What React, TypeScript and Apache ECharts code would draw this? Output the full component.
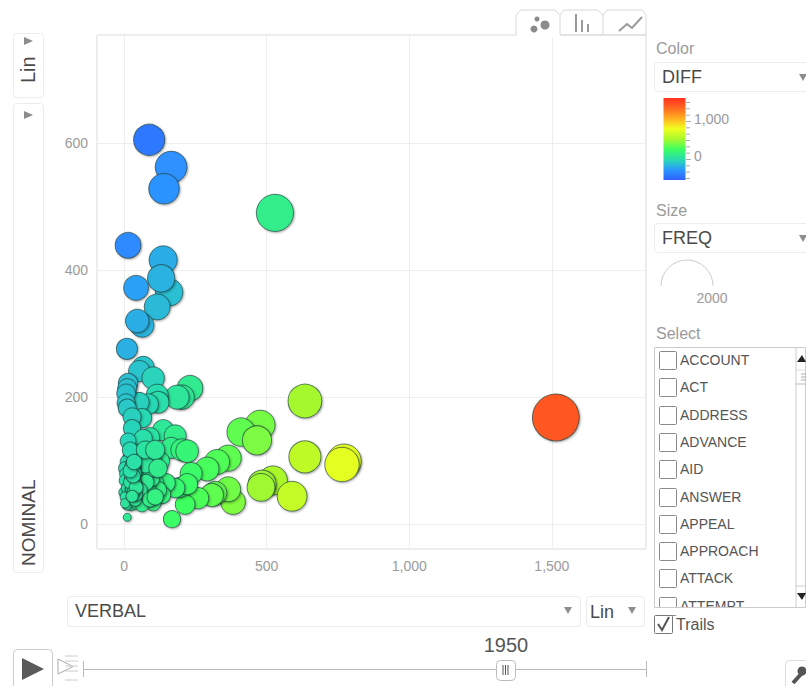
import React, { useEffect, useRef } from "react";
import * as echarts from "echarts";

// Values, one entry per bubble
const verbal = [88,165,140,529,14,137,158,130,116,42,63,46,10,67,53,102,231,203,186,116,119,84,53,14,11,7,7,11,63,28,28,137,179,91,67,14,165,203,221,477,410,466,634,634,771,764,365,326,291,235,522,484,480,589,382,365,319,308,259,214,168,1514,196,221,179,147,109,133,102,119,84,95,112,126,98,81,60,46,21,11,4,7,4,0,11,63,84,49,32,74,42,21,74,109,119,77,56,39,25,18,4,25,11,4,46,63,91,109,25,25,32,39,35,32,28,35,42,11,28,35,25,32,28,21,35,42,28,32,21,35];
const nominal = [605,562,528,490,439,416,365,387,342,372,313,320,276,247,241,230,214,200,200,203,192,189,192,222,214,206,191,183,167,169,151,148,139,137,135,131,120,117,115,156,145,132,194,106,99,94,104,98,87,80,69,63,58,44,35,55,49,46,41,31,8,168,58,63,57,65,65,46,33,54,57,72,90,99,104,104,101,96,104,98,88,79,69,50,57,80,85,72,77,94,113,117,117,117,88,66,54,63,54,44,43,30,30,33,33,30,39,43,85,69,50,38,85,94,60,69,47,11,90,80,72,62,55,66,52,58,44,76,84,98];
const freq = [693,727,668,1019,453,553,523,517,458,414,376,366,286,314,294,332,445,403,386,319,311,273,245,236,225,213,198,194,230,197,179,285,318,228,202,145,285,320,336,633,555,598,828,740,870,858,469,424,378,315,591,547,538,633,417,420,368,354,300,245,176,1682,254,284,236,212,174,179,135,173,141,167,202,225,202,185,161,142,125,109,92,86,73,50,68,143,169,121,109,168,155,138,191,226,207,143,110,102,79,62,47,55,41,37,79,93,130,152,110,94,82,77,120,126,88,104,89,22,118,115,97,94,83,87,87,100,72,108,105,133];
const diff = [-517,-397,-388,39,-425,-279,-207,-257,-226,-330,-250,-274,-266,-180,-188,-128,17,3,-14,-87,-73,-105,-139,-208,-203,-199,-184,-172,-104,-141,-123,-11,40,-46,-68,-117,45,86,106,321,265,334,440,528,672,670,261,228,204,155,453,421,422,545,347,310,270,262,218,183,160,1346,138,158,122,82,44,87,69,65,27,23,22,27,-6,-23,-41,-50,-83,-87,-84,-72,-65,-50,-46,-17,-1,-23,-45,-20,-71,-96,-43,-8,31,11,2,-24,-29,-26,-39,-5,-19,-29,13,33,52,66,-60,-44,-18,1,-50,-62,-32,-34,-5,0,-62,-45,-47,-30,-27,-45,-17,-16,-16,-44,-63,-63];

const xTickStep = 500;
const yTickStep = 200;
const colorMin = -632;
const colorMax = 1526;
const colorStops = ["#3060ff","#2c98ff","#28dcb0","#3cff60","#a8f82c","#f0ff20","#ffb020","#ff6a20","#ff3020"];
const selectItems = ["ACCOUNT","ACT","ADDRESS","ADVANCE","AID","ANSWER","APPEAL","APPROACH","ATTACK","ATTEMPT"];
const yearLabel = "1950";
const sizeLegendLabel = "2000";

const FONT = "'Liberation Sans', Arial, sans-serif";
const LINE = "#ececec";
const GRAY = "#9a9a9a";
const DARK = "#4a4a4a";

const rect = (x: number, y: number, w: number, h: number, r = 3, fill = "#fff", stroke = LINE, lw = 1) => ({
  type: "rect", shape: { x: x + 0.5, y: y + 0.5, width: w, height: h, r }, style: { fill, stroke, lineWidth: lw },
});
const text = (t: string, x: number, y: number, size: number, fill = DARK, extra: any = {}, rotation = 0) => ({
  type: "text", x, y, rotation,
  style: { text: t, fontSize: size, fontFamily: FONT, fill, textAlign: "left", textVerticalAlign: "middle", ...extra },
});
const tri = (pts: number[][], fill = "#8c8c8c") => ({ type: "polygon", shape: { points: pts }, style: { fill } });
const line = (x1: number, y1: number, x2: number, y2: number, stroke = "#ccc", lineWidth = 1) => ({
  type: "line", shape: { x1, y1, x2, y2 }, style: { stroke, lineWidth },
});
const down = (x: number, y: number) => tri([[x - 4, y - 3], [x + 4, y - 3], [x, y + 4]]);

function chrome(): any[] {
  const g: any[] = [];
  // view tabs
  g.push({ type: "rect", shape: { x: 516, y: 33, width: 44, height: 5 }, style: { fill: "#fff" } });
  g.push({ type: "polyline", shape: { points: [[516, 35], [516, 15], [521, 10], [555, 10], [560, 15], [560, 35]] }, style: { stroke: "#d8d8d8", fill: "#fff" } });
  g.push({ type: "polyline", shape: { points: [[560, 15], [564, 10], [597, 10], [603, 15], [603, 35]] }, style: { stroke: "#d8d8d8", fill: "none" } });
  g.push({ type: "polyline", shape: { points: [[603, 15], [607, 10], [642, 10], [646, 15], [646, 35]] }, style: { stroke: "#d8d8d8", fill: "none" } });
  g.push(line(560, 35, 646, 35, "#d8d8d8"));
  g.push({ type: "circle", shape: { cx: 534, cy: 29, r: 3.5 }, style: { fill: "#8a8a8a" } });
  g.push({ type: "circle", shape: { cx: 537, cy: 19, r: 2.5 }, style: { fill: "#8a8a8a" } });
  g.push({ type: "circle", shape: { cx: 545, cy: 25, r: 4.5 }, style: { fill: "#8a8a8a" } });
  g.push(line(576, 14, 576, 32, "#9a9a9a", 2), line(582, 20, 582, 32, "#9a9a9a", 2), line(588, 24, 588, 32, "#9a9a9a", 2));
  g.push({ type: "polyline", shape: { points: [[619, 31], [627, 24], [632, 28], [642, 17]] }, style: { stroke: "#9a9a9a", lineWidth: 2, fill: "none" } });

  // vertical axis controls
  g.push(rect(13, 33, 30, 64), rect(13, 103, 30, 469));
  g.push(tri([[24, 37], [33, 41], [24, 45]]), tri([[24, 111], [33, 115], [24, 119]]));
  g.push(text("Lin", 28, 83, 20, DARK, { textAlign: "left" }, Math.PI / 2));
  g.push(text("NOMINAL", 28, 566, 19, DARK, { textAlign: "left" }, Math.PI / 2));

  // horizontal axis controls
  g.push(rect(67, 596, 513, 30), rect(586, 596, 58, 30));
  g.push(text("VERBAL", 75, 611, 18), text("Lin", 590, 612, 18));
  g.push(down(568, 610), down(632, 610));

  // color panel
  g.push(text("Color", 656, 48, 16, GRAY), rect(654, 62, 160, 29), text("DIFF", 662, 77, 18), down(803, 77));
  g.push({
    type: "rect", shape: { x: 663.5, y: 98, width: 22, height: 82 },
    style: {
      fill: new echarts.graphic.LinearGradient(0, 1, 0, 0,
        colorStops.map((color, i) => ({ offset: i / (colorStops.length - 1), color }))),
    },
  });
  for (let i = 0; i < 13; i++) {
    const y = 102.5 + i * 6.33;
    g.push(line(686, y, i % 6 === 3 ? 691 : 690, y, "#aaa"));
  }
  g.push(text("1,000", 694, 119, 14, GRAY), text("0", 694, 156, 14, GRAY));

  // size panel
  g.push(text("Size", 656, 210, 16, GRAY), rect(654, 223, 160, 29), text("FREQ", 662, 238, 18), down(803, 238));
  g.push({ type: "arc", shape: { cx: 687, cy: 286, r: 26, startAngle: Math.PI, endAngle: 2 * Math.PI, clockwise: true }, style: { stroke: "#ccc", fill: "none", lineWidth: 1 } });
  g.push(text(sizeLegendLabel, 712, 298, 14, GRAY, { textAlign: "center" }));

  // select list
  g.push(text("Select", 656, 333, 16, GRAY));
  selectItems.forEach((name, i) => {
    const cy = 360 + i * 27.3;
    g.push(rect(659, Math.round(cy) - 9, 17, 18, 1, "#fff", "#8a8a8a"));
    g.push(text(name, 680, cy, 14, "#555"));
  });
  g.push({ type: "rect", shape: { x: 655, y: 608, width: 150, height: 7 }, style: { fill: "#fff" } });
  g.push({ type: "rect", shape: { x: 654.5, y: 347.5, width: 151, height: 260 }, style: { fill: "none", stroke: "#ccc" } });
  g.push(line(796, 348, 796, 607, "#ccc"));
  g.push(tri([[797, 362], [806, 362], [802, 355]], "#222"), tri([[797, 593], [806, 593], [802, 600]], "#222"));
  g.push(line(796, 370, 806, 370, "#ddd"), line(796, 384, 806, 384, "#bbb"), line(796, 586, 806, 586, "#ccc"));
  g.push(line(801, 374, 806, 374, "#aaa"), line(801, 377, 806, 377, "#aaa"), line(801, 380, 806, 380, "#aaa"));

  // trails
  g.push(rect(654, 615, 18, 18, 1, "#fff", "#777"));
  g.push({ type: "polyline", shape: { points: [[658, 624], [662, 630], [669, 617]] }, style: { stroke: "#555", lineWidth: 2, fill: "none" } });
  g.push(text("Trails", 676, 624, 16, "#555"));

  // time slider
  g.push(text(yearLabel, 506, 645, 20, "#555", { textAlign: "center" }));
  g.push(line(84, 669.5, 646, 669.5, "#bbb"), line(83.5, 661, 83.5, 677, "#bbb"), line(646.5, 661, 646.5, 677, "#bbb"));
  g.push(rect(496, 660, 19, 20, 4, "#fff", "#bbb"));
  g.push(line(503, 665, 503, 675, "#555"), line(505.5, 665, 505.5, 675, "#555"), line(508, 665, 508, 675, "#555"));
  g.push(rect(13, 649, 39, 44, 4, "#fff", "#ccc"));
  g.push(tri([[22, 658], [44, 669], [22, 680]], "#5a5a5a"));
  g.push({ type: "polygon", shape: { points: [[58, 659], [73, 666.5], [58, 674]] }, style: { fill: "#fff", stroke: "#aaa" } });
  [656, 661, 666, 671, 680].forEach((y) => g.push(line(65, y, 78, y, "#ccc")));

  // settings button
  g.push(rect(785, 660, 30, 30, 4, "#fff", "#ddd"));
  g.push(line(793, 683, 802, 673, "#555", 4));
  g.push({ type: "circle", shape: { cx: 802, cy: 671, r: 4.5 }, style: { fill: "#555" } });
  return g.map((el) => ({ ...el, z: 100 }));
}

export default function App() {
  const ref = useRef<HTMLDivElement>(null);
  useEffect(() => {
    const chart = echarts.init(ref.current!, undefined, { renderer: "svg" });
    const axisBase = {
      type: "value",
      axisLine: { show: false },
      axisTick: { show: false },
      splitLine: { show: true, lineStyle: { color: "#eeeeee", width: 1 } },
    };
    const label = (step: number, margin: number) => ({
      color: GRAY, fontSize: 14, fontFamily: FONT, margin,
      formatter: (v: number) => (v % step === 0 ? v.toLocaleString("en-US") : ""),
    });
    chart.setOption({
      animation: false,
      backgroundColor: "#fff",
      grid: { left: 97, top: 35, width: 549, height: 514, show: true, borderColor: "#d8d8d8", borderWidth: 1, backgroundColor: "transparent" },
      xAxis: { ...axisBase, min: -95, max: 1830, splitNumber: 4, axisLabel: label(xTickStep, 10) },
      yAxis: { ...axisBase, min: -39, max: 770, splitNumber: 4, axisLabel: label(yTickStep, 9) },
      visualMap: {
        show: false, type: "continuous", dimension: 3, min: colorMin, max: colorMax, seriesIndex: 0,
        inRange: { color: colorStops },
      },
      series: [{
        type: "scatter",
        data: verbal.map((v, i) => [v, nominal[i], freq[i], diff[i]]),
        encode: { x: 0, y: 1 },
        symbolSize: (d: number[]) => 3 + 1.07 * Math.sqrt(d[2]),
        itemStyle: {
          opacity: 1, borderColor: "rgba(30,60,60,0.65)", borderWidth: 1,
          shadowColor: "rgba(0,0,0,0.35)", shadowBlur: 2, shadowOffsetX: 1, shadowOffsetY: 1,
        },
      }],
      graphic: { elements: chrome() },
    });
    return () => chart.dispose();
  }, []);
  return <div ref={ref} style={{ position: "fixed", left: 0, top: 0, width: 806, height: 686, overflow: "hidden" }} />;
}
